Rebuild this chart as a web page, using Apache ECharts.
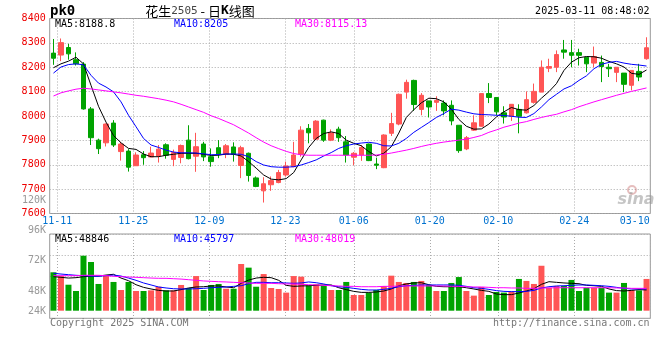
<!DOCTYPE html>
<html><head><meta charset="utf-8">
<script src="https://cdn.jsdelivr.net/npm/echarts@6/dist/echarts.min.js"></script>
<style>html,body{margin:0;padding:0;background:#fff}#c{width:660px;height:360px}</style>
</head><body><div id="c"></div>
<script>
// ---------------- data ----------------
const dates = ['11-08','11-11','11-12','11-13','11-14','11-15','11-18','11-19','11-20','11-21','11-22','11-25','11-26','11-27','11-28','11-29',
'12-02','12-03','12-04','12-05','12-06','12-09','12-10','12-11','12-12','12-13','12-16','12-17','12-18','12-19','12-20','12-23','12-24','12-25','12-26','12-27','12-30','12-31',
'01-02','01-03','01-06','01-07','01-08','01-09','01-10','01-13','01-14','01-15','01-16','01-17','01-20','01-21','01-22','01-23','01-24','01-27',
'02-05','02-06','02-07','02-10','02-11','02-12','02-13','02-14','02-17','02-18','02-19','02-20','02-21','02-24','02-25','02-26','02-27','02-28',
'03-03','03-04','03-05','03-06','03-07','03-10'];
const labelDates = ['11-11','11-25','12-09','12-23','01-06','01-20','02-10','02-24','03-10'];

const open  = [8258,8250,8281,8231,8213,8029,7901,7890,7971,7854, 7856,7796,7841,7832,7836,7882,7822,7830,7901,7835,
               7885,7833,7870,7843,7873,7797,7847,7746,7693,7718, 7727,7758,7792,7843,7949,7905,7983,7901,7946,7894,
               7831,7840,7885,7803,7788,7929,7967,8098,8146,8027, 8062,8056,8053,8044,7962,7865,7942,7958,8092,8076,
               8013,7999,8027,8013,8056,8098,8196,8200,8271,8260, 8260,8241,8217,8220,8200,8179,8176,8126,8183,8235];
const close = [8237,8301,8255,8214,8029,7911,7866,7967,7881,7885, 7790,7840,7829,7848,7864,7839,7850,7879,7825,7874,
               7832,7813,7843,7878,7843,7870,7756,7711,7722,7735, 7768,7795,7840,7942,7931,7979,7901,7931,7911,7840,
               7847,7871,7817,7798,7922,7969,8089,8138,8047,8085, 8037,8064,8021,7980,7858,7911,7972,8092,8076,8017,
               7996,8048,7999,8067,8101,8200,8203,8252,8262,8249, 8249,8214,8244,8203,8194,8200,8130,8187,8160,8280];
const low   = [8210,8225,8231,8207,8026,7881,7844,7875,7873,7817, 7772,7795,7800,7830,7809,7825,7794,7806,7822,7771,
               7815,7792,7827,7827,7813,7745,7731,7708,7645,7693, 7724,7751,7790,7833,7888,7901,7894,7897,7894,7809,
               7798,7816,7815,7782,7786,7918,7962,8071,8021,8003, 7994,8021,8003,7962,7849,7860,7939,7956,8053,8003,
               7969,7980,7929,8010,8051,8098,8180,8180,8235,8200, 8207,8180,8200,8139,8160,8139,8098,8105,8143,8231];
const high  = [8316,8318,8296,8261,8221,8037,7907,7969,7983,7894, 7864,7851,7856,7874,7881,7888,7862,7883,7962,7931,
               7894,7867,7901,7885,7892,7878,7850,7752,7749,7752, 7779,7813,7894,7958,7967,7983,7985,7945,7956,7918,
               7852,7881,7887,7829,7925,8013,8092,8149,8149,8094, 8062,8081,8064,8064,7962,7918,8003,8092,8135,8076,
               8040,8048,8048,8101,8133,8228,8235,8269,8312,8312, 8276,8241,8285,8248,8214,8200,8176,8187,8214,8323];

const ma5  = [8198,8214,8225,8241,8214,8126,8040,7975,7920,7890, 7867,7863,7844,7833,7833,7839,7843,7847,7847,7847,
              7843,7838,7839,7844,7843,7836,7813,7786,7758,7741, 7738,7743,7768,7820,7871,7908,7928,7935,7928,7901,
              7888,7878,7854,7836,7847,7874,7930,7994,8026,8054, 8073,8071,8058,8028,7986,7958,7946,7947,7967,7996,
              8017,8035,8026,8024,8043,8073,8100,8133,8187,8221, 8239,8244,8243,8237,8224,8214,8201,8175,8171,8188.8];
const ma10 = [8176,8201,8211,8214,8210,8167,8135,8119,8099,8058, 8003,7956,7908,7881,7871,7860,7852,7849,7849,7848,
              7845,7841,7842,7844,7844,7843,7833,7813,7799,7792, 7790,7790,7792,7799,7809,7820,7836,7850,7867,7878,
              7885,7889,7892,7888,7878,7877,7888,7908,7933,7953, 7973,7994,8010,8028,8024,8016,8009,8006,8005,8003,
              8002,7999,7995,7994,8010,8037,8067,8089,8111,8124, 8146,8165,8194,8212,8220,8224,8217,8212,8209,8205];
const ma30 = [8082,8095,8103,8110,8114,8111,8107,8103,8099,8095, 8090,8085,8081,8076,8071,8065,8058,8048,8037,8026,
              8015,8001,7990,7977,7964,7947,7930,7911,7893,7878, 7866,7855,7846,7841,7839,7839,7839,7839,7839,7839,
              7839,7839,7839,7840,7843,7848,7854,7860,7867,7875, 7882,7888,7893,7897,7901,7905,7912,7920,7933,7943,
              7954,7962,7971,7977,7986,7994,8001,8007,8017,8026, 8038,8048,8058,8067,8076,8085,8093,8101,8108,8115.13];

// volume, thousands of lots
const volume = [62.9,59.9,53.0,48.0,76.1,71.1,53.6,60.2,55.2,48.8, 55.2,48.0,48.0,48.5,51.4,48.5,48.5,52.8,50.4,59.9,
                48.8,52.8,53.6,49.8,49.8,69.5,66.6,51.4,61.5,50.4, 49.6,46.7,59.9,59.4,52.5,53.3,52.2,48.8,48.8,55.2,
                44.8,44.8,46.7,48.8,52.0,60.2,55.2,54.4,55.2,56.0, 52.8,48.0,48.0,54.4,59.1,48.0,44.3,51.2,44.8,47.2,
                46.7,47.7,57.6,56.0,53.6,68.1,50.6,52.0,52.0,56.8, 48.0,50.6,50.6,50.6,46.7,46.7,54.4,48.8,48.5,57.6];
const volMa5  = [59.4,58.9,58.3,58.6,59.4,59.9,59.9,60.7,61.3,58.3, 56.2,53.0,50.9,49.6,48.5,48.0,48.0,49.1,50.4,51.2,
                 51.4,52.0,52.0,51.2,50.6,54.1,56.7,58.3,58.9,58.6, 56.5,52.5,51.7,52.0,52.2,52.5,52.8,52.8,50.6,49.1,
                 47.7,46.9,46.9,47.2,48.0,49.6,52.2,53.6,54.4,54.6, 53.0,51.7,51.4,51.4,51.4,50.6,49.6,48.5,47.7,45.6,
                 45.1,45.1,46.4,48.0,49.8,53.3,55.4,54.9,54.4,54.1, 53.8,52.5,52.2,51.7,49.6,48.3,48.0,48.5,49.1,48.8];
const volMa10 = [62.1,61.5,61.0,60.5,60.2,59.9,59.7,60.2,60.7,59.9, 58.3,56.5,54.4,52.8,51.2,50.4,49.8,49.6,49.6,49.8,
                 50.1,50.6,50.9,51.2,51.7,52.2,53.8,54.9,54.9,54.6, 54.6,54.4,54.1,54.4,55.2,54.6,53.6,52.2,51.4,50.9,
                 50.1,49.3,48.8,48.8,49.3,50.1,51.4,52.2,52.5,52.8, 52.8,52.8,52.8,52.8,52.5,51.7,50.6,50.1,49.3,48.3,
                 47.7,47.5,47.5,47.7,48.5,50.4,51.4,52.0,52.2,52.5, 52.8,52.8,52.5,52.2,51.7,50.9,50.1,49.6,49.6,49.6];
const volMa30 = [60.2,60.2,60.2,60.2,60.5,60.5,60.5,60.2,59.7,59.4, 59.1,58.9,58.6,58.3,58.1,58.1,57.8,57.5,57.0,56.5,
                 56.0,55.7,55.4,55.2,54.9,54.6,54.4,54.1,54.1,54.1, 53.8,53.6,53.6,53.3,53.0,52.8,52.5,52.2,52.0,51.7,
                 51.7,51.4,51.4,51.4,51.7,51.7,52.0,52.0,52.0,52.0, 52.0,52.0,52.0,51.7,51.7,51.4,51.2,51.2,50.9,50.6,
                 50.6,50.4,50.4,50.1,50.1,50.4,50.4,50.6,50.6,50.6, 50.6,50.6,50.6,50.6,50.6,50.4,50.4,50.1,50.1,50.1];

const volTickLabels = ['120K','96K','72K','48K','24K'];
const volTickValues = [120, 96, 72, 48, 24];
const priceLegend = ['MA5:8188.8','MA10:8205','MA30:8115.13'];
const volLegend   = ['MA5:48846','MA10:45797','MA30:48019'];

// ---------------- style ----------------
const RED = '#ff5555', GREEN = '#00a300';
const MONO = '"DejaVu Sans Mono", "Liberation Mono", monospace';
const GRID_L = 49.7, GRID_W = 600.6;
const dotted = {color:'#aaaaaa', width:1, type:[1,2]};
const labelSet = new Set(labelDates);
const isLabel = (i, v) => labelSet.has(v);

const candleData = open.map((o, i) => [o, close[i], low[i], high[i]]);
const volData = volume.map((v, i) => ({value: v, itemStyle: {color: close[i] >= open[i] ? RED : GREEN}}));
const line = (data, color, xi, yi) => ({type:'line', data, xAxisIndex:xi, yAxisIndex:yi, showSymbol:false, silent:true,
  lineStyle:{color, width:1}, itemStyle:{color}, z:5});

const chart = echarts.init(document.getElementById('c'), null, {renderer:'canvas', width:660, height:360});

const option = {
  animation: false,
  backgroundColor: '#ffffff',
  grid: [
    {left: GRID_L, top: 18.5, width: GRID_W, height: 195, show: true, borderColor: '#999', borderWidth: 1, backgroundColor:'transparent'},
    {left: GRID_L, top: 234, width: GRID_W, height: 76.7, show: false},
    {left: GRID_L, top: 234, width: GRID_W, height: 84.3, show: true, borderColor: '#999', borderWidth: 1, backgroundColor:'transparent'}
  ],
  xAxis: [
    {type:'category', gridIndex:0, data:dates, boundaryGap:true, show:false, position:'bottom'},
    {type:'category', gridIndex:0, data:dates, boundaryGap:false, position:'bottom', offset:0,
      axisLine:{show:false}, axisTick:{show:false},
      axisLabel:{interval:isLabel, color:'#0072d0', fontSize:10, fontFamily:MONO, margin:3,
        formatter: v => v === labelDates[labelDates.length-1] ? '{r|' + v + '}' : v,
        rich:{r:{padding:[0,31,0,0], color:'#0072d0', fontSize:10, fontFamily:MONO}}},
      splitLine:{show:true, interval:isLabel, lineStyle:dotted}},
    {type:'category', gridIndex:1, data:dates, boundaryGap:true, show:false, position:'bottom'},
    {type:'category', gridIndex:2, data:dates, boundaryGap:false, position:'bottom',
      axisLine:{show:false}, axisTick:{show:false}, axisLabel:{show:false},
      splitLine:{show:true, interval:isLabel, lineStyle:dotted}}
  ],
  yAxis: [
    {type:'value', gridIndex:0, min:7600, max:8400, interval:100, position:'left',
      axisLine:{show:false}, axisTick:{show:false},
      axisLabel:{color:'#ee0000', fontSize:10, fontFamily:MONO, margin:4, formatter: v => String(v)},
      splitLine:{show:true, lineStyle:dotted}},
    {type:'value', gridIndex:1, min:32.3, max:93.4, show:false, splitLine:{show:false}},
    {type:'value', gridIndex:2, min:0, max:4, interval:1, axisLine:{show:false}, axisTick:{show:false},
      axisLabel:{show:false}, splitLine:{show:true, lineStyle:dotted}}
  ],
  series: [
    {type:'candlestick', xAxisIndex:0, yAxisIndex:0, data:candleData, barWidth:5, silent:true,
      itemStyle:{color:RED, color0:GREEN, borderColor:RED, borderColor0:GREEN, borderWidth:1}},
    line(ma5, '#000000', 0, 0),
    line(ma10, '#0000ff', 0, 0),
    line(ma30, '#ff00ff', 0, 0),
    {type:'bar', xAxisIndex:2, yAxisIndex:1, data:volData, barWidth:6, silent:true},
    line(volMa5, '#000000', 2, 1),
    line(volMa10, '#0000ff', 2, 1),
    line(volMa30, '#ff00ff', 2, 1)
  ]
};
chart.setOption(option);

function txt(x, y, text, fill, font, align) {
  return {type:'text', x, y, silent:true, z:100,
    style:{text, fill, font, textAlign:align||'left', textVerticalAlign:'middle', align:align||'left', verticalAlign:'middle'}};
}
const f10 = '10px ' + MONO;
const graphics = [
  txt(50, 11, 'pk0', '#000', 'bold 14px ' + MONO, 'left'),
  {type:'text', x:200, y:11, silent:true, z:100, style:{
    text:'{cn|花生}{num|2505}{cn| - 日}{k|K}{cn|线图}', textAlign:'center', textVerticalAlign:'middle', align:'center', verticalAlign:'middle',
    rich:{cn:{fontFamily:'"Noto Sans CJK SC"', fontSize:13, fill:'#000', color:'#000'},
          num:{fontFamily:MONO, fontSize:11, fill:'#444', color:'#444'},
          k:{fontFamily:MONO, fontSize:13, fontWeight:'bold', fill:'#000', color:'#000'}}}},
  txt(649.5, 11.5, '2025-03-11 08:48:02', '#000', f10, 'right'),
  txt(55, 24.5, priceLegend[0], '#000', f10),
  txt(174, 24.5, priceLegend[1], '#0000ff', f10),
  txt(295, 24.5, priceLegend[2], '#ff00ff', f10),
  txt(55, 239.5, volLegend[0], '#000', f10),
  txt(174, 239.5, volLegend[1], '#0000ff', f10),
  txt(295, 239.5, volLegend[2], '#ff00ff', f10),
  txt(50, 323.5, 'Copyright 2025 SINA.COM', '#777', f10),
  txt(649.5, 323.5, 'http://finance.sina.com.cn', '#777', f10, 'right'),
  {type:'circle', shape:{cx:632, cy:190, r:4}, silent:true, z:90, style:{fill:'none', stroke:'rgba(200,110,110,0.45)', lineWidth:2}},
  txt(636, 200, 'sina', 'rgba(150,150,150,0.55)', 'italic bold 16px "DejaVu Sans"', 'center')
];
// volume tick labels placed through the volume axis scale
const baseY = chart.convertToPixel({yAxisIndex:1}, 32.3);
volTickValues.forEach((v, k) => {
  const y = Math.min(chart.convertToPixel({yAxisIndex:1}, v), baseY + 0.3);
  graphics.push(txt(46, y, volTickLabels[k], '#999', f10, 'right'));
});
chart.setOption({graphic: graphics});
</script>
</body></html>
